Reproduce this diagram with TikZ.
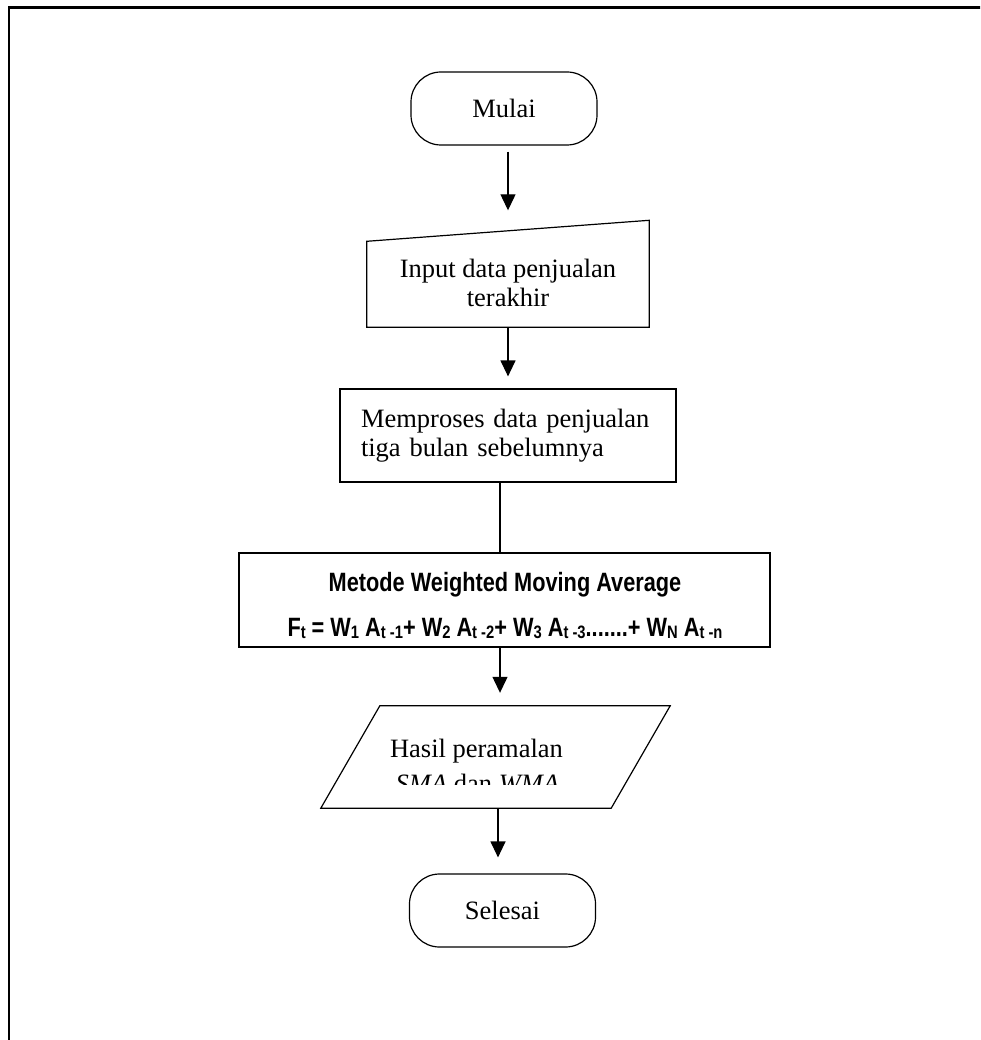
\documentclass[tikz,border=0pt]{standalone}
\usepackage{fontspec}
\setmainfont{Liberation Serif}
\newfontfamily\narrowsans[FakeStretch=0.82]{Liberation Sans}
\usetikzlibrary{arrows.meta}

\newcommand{\sbs}[1]{\raisebox{-2.5pt}{\fontsize{18}{18}\selectfont #1}}

\tikzset{
	txt/.style={inner sep=0pt, font=\fontsize{26.5}{28.5}\selectfont},
	flow/.style={txt, draw, line width=1.2pt},
	terminal/.style={flow, rounded corners=30pt, minimum width=186pt, minimum height=73pt},
	line/.style={line width=1.2pt},
	arr/.style={line, -{Triangle[width=15pt,length=16pt]}},
	wmafont/.style={txt, anchor=base, font=\fontsize{26.5}{28.5}\selectfont\narrowsans\bfseries}
}

\begin{document}
\begin{tikzpicture}[x=1pt,y=-1pt]
	\useasboundingbox (0,0) rectangle (980,1040);
	\clip (0,0) rectangle (980,1040);
	\draw[line width=2.2pt] (9,7.5) rectangle (1000,1060);
	% start
	\node[terminal] at (504,108.5) (mulai) {Mulai};
	% input (manual input)
	\node[txt, align=center, minimum width=282pt, minimum height=83pt] at (508,283) (input) {Input data penjualan\\terakhir};
	\draw[line] ([yshift=-2.5pt]input.south west) -- (input.north west) -- ([yshift=21pt]input.north east) -- ([yshift=-2.5pt]input.south east) -- cycle;
	% process
	\node[flow, align=left, text width=294pt, inner xsep=21pt, minimum height=93pt] at (508,435.5) (proses) {Memproses data penjualan\\tiga bulan sebelumnya};
	% method
	\node[flow, minimum width=531pt, minimum height=94pt] at (504.5,600) (wma) {};
	\node[wmafont] at (505,591) (judul) {Metode Weighted Moving Average};
	\node[wmafont] at (505,636) (rumus) {F\sbs{t} = W\sbs{1} A\sbs{t -1}+ W\sbs{2} A\sbs{t -2}+ W\sbs{3} A\sbs{t -3}.......+ W\sbs{N} A\sbs{t -n}};
	% output
	\node[txt, minimum width=290pt, minimum height=102pt] at (495.5,757) (hasil) {};
	\draw[line] ([xshift=29.5pt]hasil.north west) -- ([xshift=29.5pt]hasil.north east) -- ([xshift=-29.5pt]hasil.south east) -- ([xshift=-29.5pt]hasil.south west) -- cycle;
	\node[txt, anchor=base] at (476.5,757) (hasila) {Hasil peramalan};
	\begin{scope}
		\clip (300,700) rectangle (700,784);
		\node[txt, anchor=base] at (477.5,792) (hasilb) {\textit{SMA} dan \textit{WMA}};
	\end{scope}
	% end
	\node[terminal] at (502.5,910.5) (selesai) {Selesai};
	% connectors
	\draw[arr, shorten <=6pt, shorten >=31pt] ([xshift=4pt]mulai.south) -- (input.north);
	\draw[arr, shorten >=12pt, shorten <=2.5pt] (input.south) -- (proses.north);
	\draw[line] ([xshift=-8pt]proses.south) -- ([xshift=-4.5pt]wma.north);
	\draw[arr, shorten >=13pt] ([xshift=-4.5pt]wma.south) -- ([xshift=4.5pt]hasil.north);
	\draw[arr, shorten >=16pt] ([xshift=2.5pt]hasil.south) -- ([xshift=-4.5pt]selesai.north);
\end{tikzpicture}
\end{document}
